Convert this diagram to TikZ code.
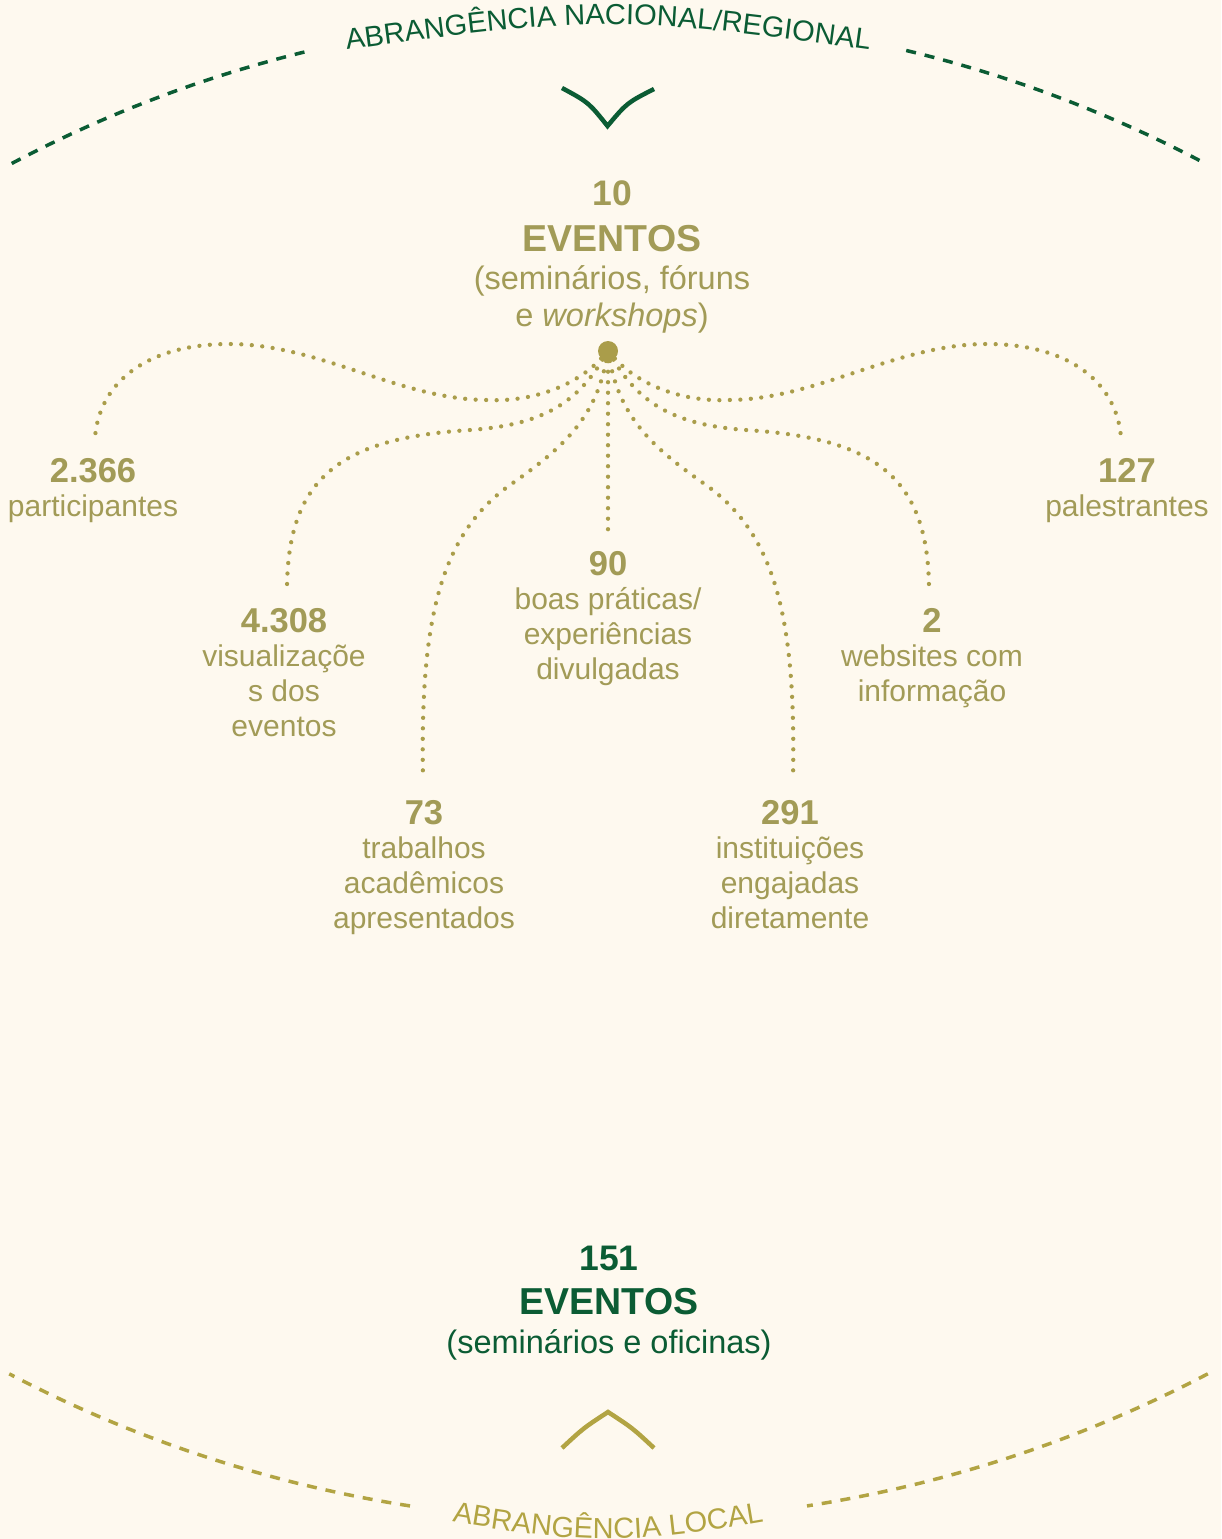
\documentclass[tikz,border=0pt]{standalone}
\usepackage{fontspec}
\setmainfont{Liberation Sans}
\usetikzlibrary{decorations.text}

\definecolor{paper}{HTML}{FEF9EF}
\definecolor{dkgreen}{HTML}{0B5C34}
\definecolor{olivetext}{HTML}{A29B57}
\definecolor{olivedot}{HTML}{AA9D4A}
\definecolor{olivedash}{HTML}{B2A443}

\newcommand\statnum[1]{{\fontsize{34.5}{35}\selectfont\bfseries #1}}
\newcommand\arcfont{\fontsize{29}{29}\selectfont}

\begin{document}
\begin{tikzpicture}[x=1pt,y=-1pt,
  stat/.style={align=center, inner sep=0pt, anchor=north, text=olivetext,
    font=\fontsize{30}{35}\selectfont},
  headblock/.style={align=center, inner sep=0pt, anchor=north,
    font=\fontsize{32.5}{37}\selectfont},
  dotline/.style={draw=olivedot, line width=4.3pt, line cap=round,
    dash pattern=on 0pt off 10.5pt},
  scopeline/.style={line width=3.5pt, dash pattern=on 10pt off 9pt},
  chevron/.style={line width=4.5pt}]

% page and background
\useasboundingbox (0,0) rectangle (1221,1539);
\fill[paper] (0,0) rectangle (1221,1539);

% national/regional scope: dashed arc, curved title, chevron
\draw[scopeline, draw=dkgreen] plot[domain=-117.9:-103.44, samples=60]
  ({608.5+1275.4*cos(\x)}, {1290.6+1275.4*sin(\x)});
\draw[scopeline, draw=dkgreen] plot[domain=-76.5:-62.08, samples=60]
  ({608.5+1275.4*cos(\x)}, {1290.6+1275.4*sin(\x)});
\path[decorate, decoration={text along path, text align=center, text color=dkgreen,
    text={|\arcfont|ABRANGÊNCIA NACIONAL/REGIONAL}}]
  (300,56.4) .. controls (608,13.6) .. (916,56.4);
\coordinate (cvL) at (562,88);
\coordinate (cvM) at (607.5,126);
\coordinate (cvR) at (654,89);
\draw[chevron, draw=dkgreen] (cvL) .. controls (588.6,102.4) .. (cvM)
  .. controls (627,102.8) .. (cvR);

% local scope: dashed arc, curved title, chevron
\draw[scopeline, draw=olivedash] plot[domain=98.84:117.64, samples=60]
  ({608.5+1291.9*cos(\x)}, {229.4+1291.9*sin(\x)});
\draw[scopeline, draw=olivedash] plot[domain=62.36:81.16, samples=60]
  ({608.5+1291.9*cos(\x)}, {229.4+1291.9*sin(\x)});
\path[decorate, decoration={text along path, text align=center, text color=olivedash,
    text={|\arcfont|ABRANGÊNCIA LOCAL}}]
  (350,1503.3) .. controls (608,1550.7) .. (866,1503.3);
\coordinate (caL) at (562,1448);
\coordinate (caM) at (608,1412);
\coordinate (caR) at (654,1448);
\draw[chevron, draw=olivedash] (caL) .. controls (583.5,1428) .. (caM)
  .. controls (632.5,1428) .. (caR);

% headline blocks
\node[headblock, text=olivetext] (natEvents) at (612,181)
  {{\fontsize{35.5}{37}\selectfont\bfseries 10}\\[8.7pt]
   {\fontsize{37.5}{37}\selectfont\bfseries EVENTOS}\\[1.3pt]
   (seminários, fóruns\\
   e \textit{workshops})};
\node[headblock, text=dkgreen] (locEvents) at (609,1245.5)
  {{\fontsize{35.5}{37}\selectfont\bfseries 151}\\[7.7pt]
   {\fontsize{37.5}{37}\selectfont\bfseries EVENTOS}\\[1.3pt]
   (seminários e oficinas)};

% indicators
\node[stat] (sPart) at (93,458)   {\statnum{2.366}\\[-1pt]participantes};
\node[stat] (sVis)  at (284,608)  {\statnum{4.308}\\[-1pt]visualizaçõe\\s dos\\eventos};
\node[stat] (sTrab) at (424,800)  {\statnum{73}\\[-1pt]trabalhos\\acadêmicos\\apresentados};
\node[stat] (sBoas) at (608,551)  {\statnum{90}\\[-1pt]boas práticas/\\experiências\\divulgadas};
\node[stat] (sInst) at (790,800)  {\statnum{291}\\[-1pt]instituições\\engajadas\\diretamente};
\node[stat] (sWeb)  at (932,608)  {\statnum{2}\\[-1pt]websites com\\informação};
\node[stat] (sPal)  at (1127,458) {\statnum{127}\\[-1pt]palestrantes};

% connector ends above each indicator
\coordinate (ePart) at (95,437);
\coordinate (eVis)  at (287,588);
\coordinate (eTrab) at (423,778);
\coordinate (eBoas) at (608,530);
\coordinate (eInst) at (793,778);
\coordinate (eWeb)  at (929,588);
\coordinate (ePal)  at (1121,437);

% hub and dotted connectors
\node[circle, inner sep=0pt, minimum size=20pt] (hub) at (608,351) {};
\draw[dotline] (hub) .. controls (575,387) and (530,402) .. (488,400)
  .. controls (400,400) and (320,344) .. (229,344)
  .. controls (150,344) and (100,380) .. (ePart);
\draw[dotline] (hub) .. controls (575,405) and (540,425) .. (470,430)
  .. controls (340,438) and (288,478) .. (eVis);
\draw[dotline] (hub) .. controls (595,420) and (560,450) .. (510,485)
  .. controls (440,535) and (420,620) .. (eTrab);
\draw[dotline] (hub) -- (eBoas);
\draw[dotline] (hub) .. controls (621,420) and (656,450) .. (706,485)
  .. controls (776,535) and (796,620) .. (eInst);
\draw[dotline] (hub) .. controls (641,405) and (676,425) .. (746,430)
  .. controls (876,438) and (928,478) .. (eWeb);
\draw[dotline] (hub) .. controls (641,387) and (686,402) .. (728,400)
  .. controls (816,400) and (896,344) .. (987,344)
  .. controls (1066,344) and (1116,380) .. (ePal);
\fill[olivedot] (hub) circle[radius=10pt];
\end{tikzpicture}
\end{document}
